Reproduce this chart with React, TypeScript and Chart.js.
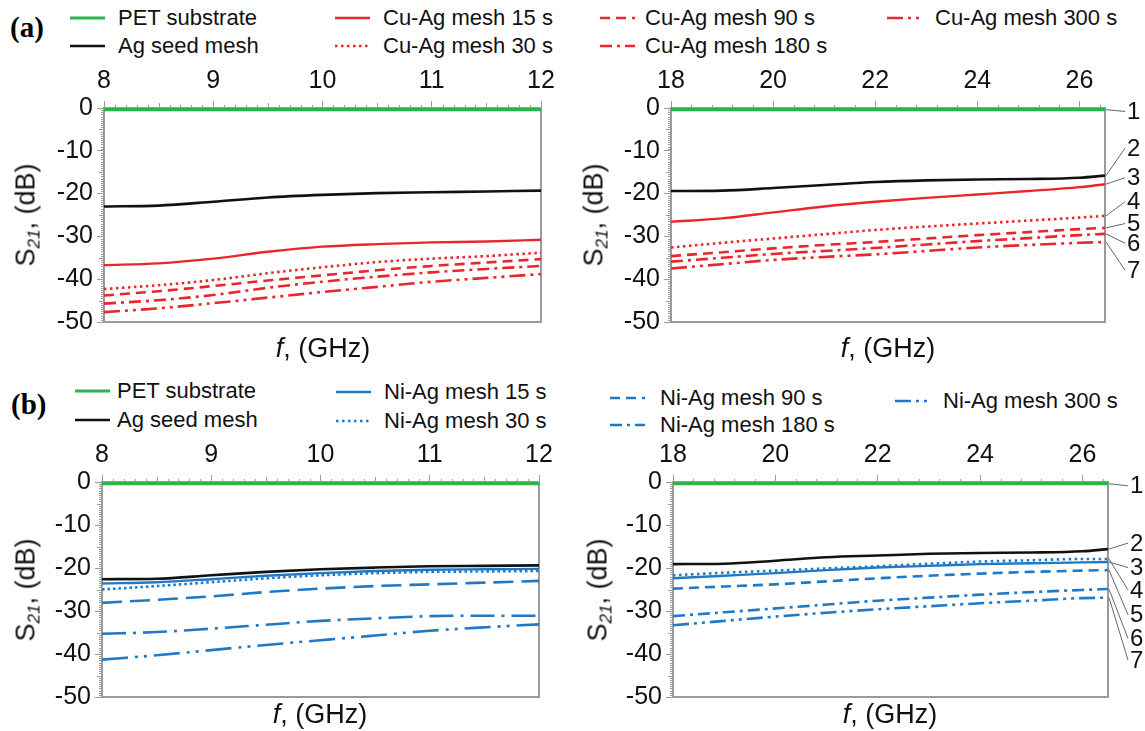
import React, { useEffect, useRef } from "react";
import { Chart, registerables } from "chart.js";
Chart.register(...registerables);

// ---------- data ----------
const FREQ_X = [8, 8.5, 9, 9.5, 10, 10.5, 11, 11.5, 12];
const FREQ_K = [18, 19, 20, 21, 22, 23, 24, 25, 26, 26.5];
const TICKS_X = [8, 9, 10, 11, 12];
const TICKS_K = [18, 20, 22, 24, 26];
const TICKS_Y = [0, -10, -20, -30, -40, -50];

// (a) Cu-Ag, X band
const A_X_PET = [-0.4, -0.4, -0.4, -0.4, -0.4, -0.4, -0.4, -0.4, -0.4];
const A_X_AG = [-23.0, -22.8, -21.9, -20.9, -20.3, -19.9, -19.7, -19.5, -19.3];
const A_X_15 = [-36.7, -36.3, -35.2, -33.6, -32.4, -31.8, -31.4, -31.2, -30.8];
const A_X_30 = [-42.3, -41.4, -40.2, -38.6, -37.2, -36.0, -35.2, -34.6, -33.8];
const A_X_90 = [-43.8, -42.8, -41.6, -40.3, -39.1, -37.9, -36.9, -36.1, -35.3];
const A_X_180 = [-45.7, -44.9, -43.7, -42.0, -40.6, -39.4, -38.4, -37.6, -36.9];
const A_X_300 = [-47.7, -46.8, -45.6, -44.3, -43.0, -41.8, -40.6, -39.7, -38.8];

// (a) Cu-Ag, K band
const A_K_PET = [-0.4, -0.4, -0.4, -0.4, -0.4, -0.4, -0.4, -0.4, -0.4, -0.4];
const A_K_AG = [-19.4, -19.3, -18.7, -18.0, -17.3, -16.9, -16.7, -16.6, -16.3, -15.8];
const A_K_15 = [-26.6, -25.8, -24.4, -23.0, -21.9, -21.0, -20.2, -19.4, -18.5, -17.8];
const A_K_30 = [-32.6, -31.5, -30.5, -29.5, -28.5, -27.7, -27.0, -26.3, -25.6, -25.2];
const A_K_90 = [-34.6, -33.7, -32.8, -32.0, -31.3, -30.5, -29.7, -29.0, -28.3, -28.0];
const A_K_180 = [-35.9, -35.0, -34.1, -33.4, -32.7, -31.9, -31.1, -30.4, -29.7, -29.4];
const A_K_300 = [-37.5, -36.5, -35.5, -34.8, -34.2, -33.4, -32.6, -32.0, -31.5, -31.3];
const A_K_LABEL_Y = [-0.8, -9.4, -16.3, -21.9, -27.0, -31.6, -37.9];

// (b) Ni-Ag, X band
const B_X_PET = [-0.4, -0.4, -0.4, -0.4, -0.4, -0.4, -0.4, -0.4, -0.4];
const B_X_AG = [-22.6, -22.5, -21.7, -20.9, -20.3, -19.9, -19.6, -19.5, -19.4];
const B_X_15 = [-23.6, -23.3, -22.6, -21.8, -21.2, -20.7, -20.4, -20.3, -20.2];
const B_X_30 = [-25.0, -24.2, -23.3, -22.4, -21.7, -21.2, -20.9, -20.8, -20.7];
const B_X_90 = [-28.1, -27.4, -26.6, -25.6, -24.8, -24.2, -23.8, -23.4, -23.0];
const B_X_180 = [-35.3, -34.9, -34.1, -33.2, -32.3, -31.7, -31.2, -31.1, -31.1];
const B_X_300 = [-41.3, -40.3, -39.1, -37.9, -36.8, -35.7, -34.6, -33.8, -33.1];

// (b) Ni-Ag, K band
const B_K_PET = [-0.4, -0.4, -0.4, -0.4, -0.4, -0.4, -0.4, -0.4, -0.4, -0.4];
const B_K_AG = [-19.1, -19.0, -18.3, -17.5, -17.1, -16.7, -16.5, -16.4, -16.1, -15.6];
const B_K_15 = [-22.4, -21.8, -21.2, -20.5, -19.9, -19.5, -19.1, -18.9, -18.7, -18.6];
const B_K_30 = [-21.7, -21.1, -20.6, -20.1, -19.6, -19.0, -18.5, -18.2, -17.9, -17.9];
const B_K_90 = [-24.8, -24.3, -23.8, -23.1, -22.4, -21.8, -21.3, -20.9, -20.6, -20.5];
const B_K_180 = [-31.2, -30.3, -29.4, -28.5, -27.6, -26.9, -26.2, -25.6, -25.1, -24.9];
const B_K_300 = [-33.3, -32.3, -31.3, -30.4, -29.6, -28.9, -28.2, -27.6, -27.0, -26.9];
const B_K_LABEL_Y = [-0.9, -14.2, -19.9, -25.1, -30.9, -36.4, -41.4];

const CALLOUT_NUMS = ["1", "2", "3", "4", "5", "6", "7"];
const NAMES_CU = ["PET substrate", "Ag seed mesh", "Cu-Ag mesh 15 s", "Cu-Ag mesh 30 s", "Cu-Ag mesh 90 s", "Cu-Ag mesh 180 s", "Cu-Ag mesh 300 s"];
const NAMES_NI = ["PET substrate", "Ag seed mesh", "Ni-Ag mesh 15 s", "Ni-Ag mesh 30 s", "Ni-Ag mesh 90 s", "Ni-Ag mesh 180 s", "Ni-Ag mesh 300 s"];

// ---------- styles ----------
const FONT = '"Liberation Sans", Arial, Helvetica, sans-serif';
const SERIF = '"Liberation Serif", "Times New Roman", serif';
const GREEN = "#2db44d";
const RED = "#e8262b";
const BLUE = "#2079c7";
const BLACK = "#111111";
const AXIS = "#9a9a9a";
const DASHES: number[][] = [[], [], [], [2.5, 3.5], [10, 6], [12, 5, 3, 5], [16, 5, 3, 5, 3, 5]];
const DASHES_LONG: number[][] = [[], [], [], [2.5, 3], [20, 8], [24, 7, 3, 7], [26, 7, 3, 6, 3, 7]];
const WIDTHS = [3.2, 2.6, 2.4, 2.6, 2.6, 2.6, 2.6];

type PanelProps = {
  left: number; top: number; width: number; height: number;
  padRight: number; padBottom: number;
  xs: number[]; xMin: number; xMax: number; xTicks: number[];
  xMinor: number; xMid: number;
  series: number[][]; color: string; dashes: number[][];
  callout?: number[];
};

function Panel(p: PanelProps) {
  const ref = useRef<HTMLCanvasElement>(null);
  useEffect(() => {
    if (!ref.current) return;
    const colors = [GREEN, BLACK, p.color, p.color, p.color, p.color, p.color];
    const near = (a: number, b: number) => Math.abs(a - b) < 1e-6;
    const deco = {
      id: "deco",
      beforeDatasetsDraw(chart: any) {
        const { ctx, chartArea: a, scales } = chart;
        const xs = scales.x, ys = scales.y;
        ctx.save();
        ctx.strokeStyle = AXIS;
        ctx.lineWidth = 2;
        ctx.beginPath();
        ctx.moveTo(a.left, a.bottom);
        ctx.lineTo(a.right, a.bottom);
        ctx.lineTo(a.right, a.top);
        ctx.stroke();
        ctx.lineWidth = 1;
        ctx.beginPath();
        const nX = Math.floor((p.xMax - p.xMin) / p.xMinor + 1e-6);
        for (let k = 0; k <= nX; k++) {
          const v = p.xMin + k * p.xMinor;
          if (p.xTicks.some((t) => near(t, v))) continue;
          const mid = p.xMid > 0 && near(v / p.xMid, Math.round(v / p.xMid));
          const px = Math.round(xs.getPixelForValue(v)) + 0.5;
          ctx.moveTo(px, a.top);
          ctx.lineTo(px, a.top - (mid ? 5 : 3));
        }
        for (let k = 0; k <= 100; k++) {
          const v = -50 + k * 0.5;
          if (near(v / 10, Math.round(v / 10))) continue;
          const mid = near(v / 5, Math.round(v / 5));
          const py = Math.round(ys.getPixelForValue(v)) + 0.5;
          ctx.moveTo(a.left, py);
          ctx.lineTo(a.left - (mid ? 5 : 3), py);
        }
        ctx.stroke();
        ctx.restore();
      },
      afterDraw(chart: any) {
        if (!p.callout) return;
        const { ctx, chartArea: a, scales } = chart;
        const xs = scales.x, ys = scales.y;
        ctx.save();
        ctx.strokeStyle = "#666";
        ctx.lineWidth = 1;
        ctx.fillStyle = BLACK;
        ctx.font = `24px ${FONT}`;
        ctx.textBaseline = "middle";
        ctx.textAlign = "left";
        const last = p.xs.length - 1;
        p.callout.forEach((ly, i) => {
          const x0 = xs.getPixelForValue(p.xs[last]);
          const y0 = ys.getPixelForValue(p.series[i][last]);
          const x1 = a.right + 20;
          const y1 = ys.getPixelForValue(ly);
          ctx.beginPath();
          ctx.moveTo(x0 + 1, y0);
          ctx.lineTo(x1, y1);
          ctx.stroke();
          ctx.fillText(CALLOUT_NUMS[i], x1 + 2, y1 + 1);
        });
        ctx.restore();
      },
    };
    const tickFont = { family: FONT, size: 25 };
    const chart = new Chart(ref.current, {
      type: "line",
      data: {
        datasets: p.series.map((s, i) => ({
          data: p.xs.map((x, j) => ({ x, y: s[j] })),
          borderColor: colors[i],
          borderWidth: WIDTHS[i],
          borderDash: p.dashes[i],
          pointRadius: 0,
          cubicInterpolationMode: "monotone",
          fill: false,
        })),
      },
      options: {
        animation: false,
        responsive: false,
        maintainAspectRatio: false,
        layout: { padding: { left: 0, top: 0, right: p.padRight, bottom: p.padBottom } },
        plugins: { legend: { display: false }, tooltip: { enabled: false } },
        scales: {
          x: {
            type: "linear",
            position: "top",
            min: p.xMin,
            max: p.xMax,
            afterBuildTicks: (s: any) => { s.ticks = p.xTicks.map((v) => ({ value: v })); },
            afterFit: (s: any) => { s.height = 38; },
            ticks: { font: tickFont, color: BLACK, padding: 5, maxRotation: 0, autoSkip: false, callback: (v: any) => String(v) },
            grid: { drawOnChartArea: false, drawTicks: true, tickLength: 7, tickColor: AXIS, tickWidth: 1 },
            border: { display: true, color: AXIS, width: 2 },
          },
          y: {
            type: "linear",
            position: "left",
            min: -50,
            max: 0,
            afterBuildTicks: (s: any) => { s.ticks = TICKS_Y.map((v) => ({ value: v })); },
            afterFit: (s: any) => { s.width = 74; },
            ticks: { font: tickFont, color: BLACK, padding: 4, autoSkip: false, callback: (v: any) => String(v) },
            grid: { drawOnChartArea: false, drawTicks: true, tickLength: 7, tickColor: AXIS, tickWidth: 1 },
            border: { display: true, color: AXIS, width: 2 },
          },
        },
      },
      plugins: [deco],
    } as any);
    return () => chart.destroy();
  }, []);
  return (
    <canvas
      ref={ref}
      width={p.width}
      height={p.height}
      style={{ position: "absolute", left: p.left, top: p.top, width: p.width, height: p.height }}
    />
  );
}

function LegendItem({ x, tx, y, color, dash, width, label }: { x: number; tx: number; y: number; color: string; dash: number[]; width: number; label: string }) {
  const len = 35;
  return (
    <>
      <svg style={{ position: "absolute", left: x, top: y - 5 }} width={len} height={10}>
        <line x1={0} y1={5} x2={len} y2={5} stroke={color} strokeWidth={width} strokeDasharray={dash.length ? dash.join(" ") : undefined} />
      </svg>
      <div style={{ position: "absolute", left: tx, top: y - 13, height: 26, lineHeight: "26px", fontFamily: FONT, fontSize: 22, color: BLACK, whiteSpace: "nowrap" }}>
        {label}
      </div>
    </>
  );
}

function YTitle({ cx, cy }: { cx: number; cy: number }) {
  return (
    <div style={{ position: "absolute", left: cx, top: cy, transform: "translate(-50%, -50%) rotate(-90deg)", fontFamily: FONT, fontSize: 27, color: BLACK, whiteSpace: "nowrap", lineHeight: "30px" }}>
      S<sub style={{ fontStyle: "italic", fontSize: 17, verticalAlign: "-5px" }}>21</sub>, (dB)
    </div>
  );
}

function XTitle({ cx, cy }: { cx: number; cy: number }) {
  return (
    <div style={{ position: "absolute", left: cx, top: cy, transform: "translate(-50%, -50%)", fontFamily: FONT, fontSize: 27, color: BLACK, whiteSpace: "nowrap", lineHeight: "30px" }}>
      <i>f</i>, (GHz)
    </div>
  );
}

export default function App() {
  const cuX = [A_X_PET, A_X_AG, A_X_15, A_X_30, A_X_90, A_X_180, A_X_300];
  const cuK = [A_K_PET, A_K_AG, A_K_15, A_K_30, A_K_90, A_K_180, A_K_300];
  const niX = [B_X_PET, B_X_AG, B_X_15, B_X_30, B_X_90, B_X_180, B_X_300];
  const niK = [B_K_PET, B_K_AG, B_K_15, B_K_30, B_K_90, B_K_180, B_K_300];
  const colsA = [GREEN, BLACK, RED, RED, RED, RED, RED];
  const colsB = [GREEN, BLACK, BLUE, BLUE, BLUE, BLUE, BLUE];
  // legend layout: [lineX, textX, y]
  const legA: [number, number, number][] = [[70, 118, 18], [70, 118, 46], [335, 383, 18], [335, 383, 46], [600, 645, 18], [600, 645, 46], [887, 935, 18]];
  const legB: [number, number, number][] = [[75, 117, 391], [75, 117, 420], [336, 384, 392], [336, 384, 421], [610, 660, 398], [610, 660, 425], [895, 943, 401]];
  return (
    <div style={{ position: "absolute", left: 0, top: 0, width: 1145, height: 731, background: "#fff", overflow: "hidden" }}>
      <div style={{ position: "absolute", left: 10, top: 11, fontFamily: SERIF, fontWeight: "bold", fontSize: 29, lineHeight: "32px" }}>(a)</div>
      <div style={{ position: "absolute", left: 11, top: 388, fontFamily: SERIF, fontWeight: "bold", fontSize: 29, lineHeight: "32px" }}>(b)</div>
      {legA.map((l, i) => (
        <LegendItem key={"a" + i} x={l[0]} tx={l[1]} y={l[2]} color={colsA[i]} dash={DASHES[i]} width={i === 0 ? 3 : 2.5} label={NAMES_CU[i]} />
      ))}
      {legB.map((l, i) => (
        <LegendItem key={"b" + i} x={l[0]} tx={l[1]} y={l[2]} color={colsB[i]} dash={DASHES[i]} width={i === 0 ? 3 : 2.5} label={NAMES_NI[i]} />
      ))}
      <Panel left={30} top={70} width={540} height={272} padRight={29} padBottom={20}
        xs={FREQ_X} xMin={8} xMax={12} xTicks={TICKS_X} xMinor={0.1} xMid={0.5} series={cuX} color={RED} dashes={DASHES} />
      <Panel left={597} top={70} width={548} height={272} padRight={40} padBottom={20}
        xs={FREQ_K} xMin={18} xMax={26.5} xTicks={TICKS_K} xMinor={0.4} xMid={0} series={cuK} color={RED} dashes={DASHES} callout={A_K_LABEL_Y} />
      <Panel left={28} top={444} width={540} height={272} padRight={29} padBottom={19}
        xs={FREQ_X} xMin={8} xMax={12} xTicks={TICKS_X} xMinor={0.1} xMid={0.5} series={niX} color={BLUE} dashes={DASHES_LONG} />
      <Panel left={599} top={444} width={546} height={272} padRight={37} padBottom={19}
        xs={FREQ_K} xMin={18} xMax={26.5} xTicks={TICKS_K} xMinor={0.4} xMid={0} series={niK} color={BLUE} dashes={DASHES} callout={B_K_LABEL_Y} />
      <YTitle cx={30} cy={215} />
      <YTitle cx={598} cy={215} />
      <YTitle cx={30} cy={590} />
      <YTitle cx={602} cy={590} />
      <XTitle cx={323} cy={348} />
      <XTitle cx={888} cy={348} />
      <XTitle cx={320} cy={714} />
      <XTitle cx={890} cy={714} />
    </div>
  );
}
